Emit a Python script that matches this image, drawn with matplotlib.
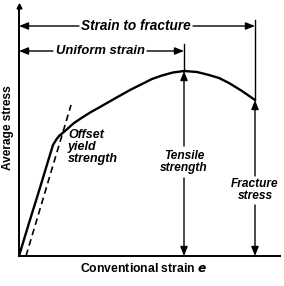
import matplotlib
matplotlib.use("Agg")
import matplotlib.pyplot as plt

# stress-strain curve (arbitrary units)
strain = [0.0, 1.0, 2.0, 3.0, 3.4, 3.7, 4.0, 4.6, 5.5, 6.4, 7.2, 8.1, 9.5,
          11.1, 12.3, 13.3, 14.3, 15.4, 16.5, 17.8, 19.0, 20.0, 21.0, 22.3, 23.6]
stress = [0.0, 3.3, 6.5, 9.8, 11.1, 11.6, 12.0, 12.5, 13.3, 13.9, 14.4, 14.9, 15.7,
          16.6, 17.2, 17.7, 18.05, 18.35, 18.5, 18.4, 18.1, 17.8, 17.3, 16.5, 15.6]

# 0.2% offset line, parallel to the elastic part
offset_strain = [0.7, 5.2]
offset_stress = [0.0, 15.1]

uts_strain, uts_stress = 16.5, 18.5
frac_strain, frac_stress = 23.6, 15.6

FONT = ["Liberation Sans", "DejaVu Sans"]
plt.rcParams["font.family"] = FONT

fig = plt.figure(figsize=(2.84, 2.86), dpi=100)
ax = fig.add_axes([0, 0, 1, 1])
ax.set_xlim(-1.9, 26.5)
ax.set_ylim(-3.0, 25.6)
ax.axis("off")

# axes
ax.plot([0, 0], [0, 25.0], color="black", lw=1.4)
ax.plot([0, 26.1], [0, 0], color="black", lw=1.4)
ax.plot([0], [25.0], marker="^", ms=3.5, color="black")

ax.plot(strain, stress, color="black", lw=1.7, solid_capstyle="round",
        solid_joinstyle="round")
ax.plot(offset_strain, offset_stress, color="black", lw=1.2, ls=(0, (4, 2.5)))

arrow = dict(arrowstyle="-|>,head_length=0.55,head_width=0.22",
             color="black", lw=1.0, shrinkA=0, shrinkB=0)
txt = dict(fontweight="bold", fontstyle="italic")


def harrow(x0, x1, y):
    ax.annotate("", xy=(x1, y), xytext=(x0, y), arrowprops=arrow)


def varrow(x, y0, y1):
    ax.annotate("", xy=(x, y1), xytext=(x, y0), arrowprops=arrow)


# strain to fracture
ax.text(11.7, 23.0, "Strain to fracture", ha="center", va="center",
        fontsize=9.8, **txt)
harrow(6.0, 0.0, 23.0)
harrow(17.4, frac_strain, 23.0)
ax.plot([frac_strain, frac_strain], [23.6, frac_stress], color="black", lw=1.0)

# uniform strain
ax.text(8.1, 20.5, "Uniform strain", ha="center", va="center", fontsize=9.4, **txt)
harrow(3.4, 0.0, 20.5)
harrow(12.8, uts_strain, 20.5)
ax.plot([uts_strain, uts_strain], [21.2, uts_stress], color="black", lw=1.0)

# tensile strength
varrow(uts_strain, 11.0, uts_stress)
varrow(uts_strain, 7.8, 0.0)
ax.text(uts_strain, 9.4, "Tensile\nstrength", ha="center", va="center",
        linespacing=0.95, fontsize=8.6, **txt)

# fracture stress
varrow(frac_strain, 8.0, frac_stress)
varrow(frac_strain, 5.1, 0.0)
ax.text(frac_strain, 6.6, "Fracture\nstress", ha="center", va="center",
        linespacing=0.95, fontsize=8.6, **txt)

# offset yield strength
ax.text(4.9, 10.9, "Offset\nyield\nstrength", ha="left", va="center",
        linespacing=0.95, fontsize=9.0, **txt)

ax.text(-1.1, 12.8, "Average stress", rotation=90, ha="center", va="center",
        fontsize=8.6, fontweight="bold")
ax.text(12.45, -1.2, "Conventional strain $\\boldsymbol{e}$", ha="center", va="center",
        fontsize=8.8, fontweight="bold")

fig.savefig("out.png", dpi=100)
